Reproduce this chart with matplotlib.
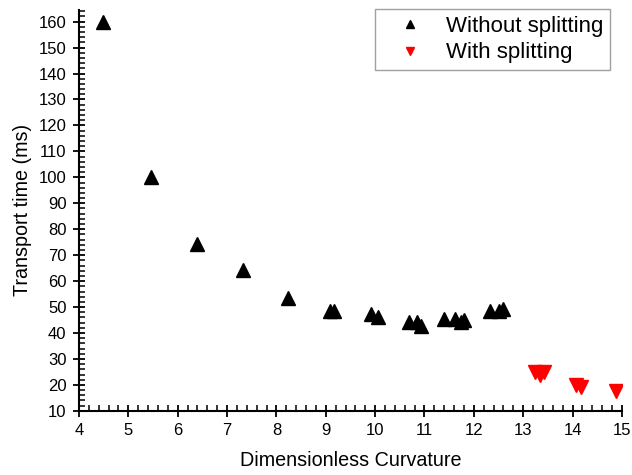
import numpy as np
import matplotlib.pyplot as plt
from matplotlib.ticker import MultipleLocator

plt.rcParams['font.family'] = ['Liberation Sans', 'DejaVu Sans']

# без разделения
x_no = [4.48, 5.45, 6.40, 7.33, 8.24, 9.08, 9.16, 9.92, 10.05, 10.69, 10.85, 10.93,
        11.39, 11.62, 11.75, 11.8, 12.32, 12.52, 12.60]
y_no = [160, 100, 74.4, 64.3, 53.4, 48.5, 48.5, 47.5, 46.0, 44.4, 44.3, 42.8,
        45.4, 45.4, 44.3, 45.0, 48.4, 48.4, 49.2]

# с разделением
x_sp = [13.23, 13.35, 13.42, 14.08, 14.18, 14.88]
y_sp = [24.8, 23.8, 24.8, 20.1, 19.2, 17.6]

fig = plt.figure(figsize=(6.32, 4.75), dpi=100)
ax = fig.add_axes([0.125, 0.135, 0.859, 0.844])

ax.plot(x_no, y_no, '^', color='black', ms=9.5, mec='black', label='Without splitting')
ax.plot(x_sp, y_sp, 'v', color='red', ms=9.5, mec='red', label='With splitting')

ax.set_xlim(4, 15)
ax.set_ylim(10, 164.5)
ax.xaxis.set_major_locator(MultipleLocator(1))
ax.xaxis.set_minor_locator(MultipleLocator(0.2))
ax.yaxis.set_major_locator(MultipleLocator(10))
ax.yaxis.set_minor_locator(MultipleLocator(2))
ax.spines['top'].set_visible(False)
ax.spines['right'].set_visible(False)
ax.spines['left'].set_linewidth(1.5)
ax.spines['bottom'].set_linewidth(1.5)
ax.tick_params(which='major', direction='inout', length=8, width=1.3, labelsize=12, pad=5)
ax.tick_params(which='minor', direction='in', length=4, width=1.1)

ax.set_xlabel('Dimensionless Curvature', fontsize=14.2, labelpad=9)
ax.set_ylabel('Transport time (ms)', fontsize=14.2, labelpad=5)

leg = ax.legend(loc='upper right', bbox_to_anchor=(0.978, 1.002), borderaxespad=0,
                fontsize=16, markerscale=0.65, frameon=True, fancybox=False,
                edgecolor='#888888', handlelength=2.6, handletextpad=0.3,
                borderpad=0.3, labelspacing=0.25, numpoints=1)
leg.get_frame().set_linewidth(1.0)

plt.savefig('out.png', dpi=100)
